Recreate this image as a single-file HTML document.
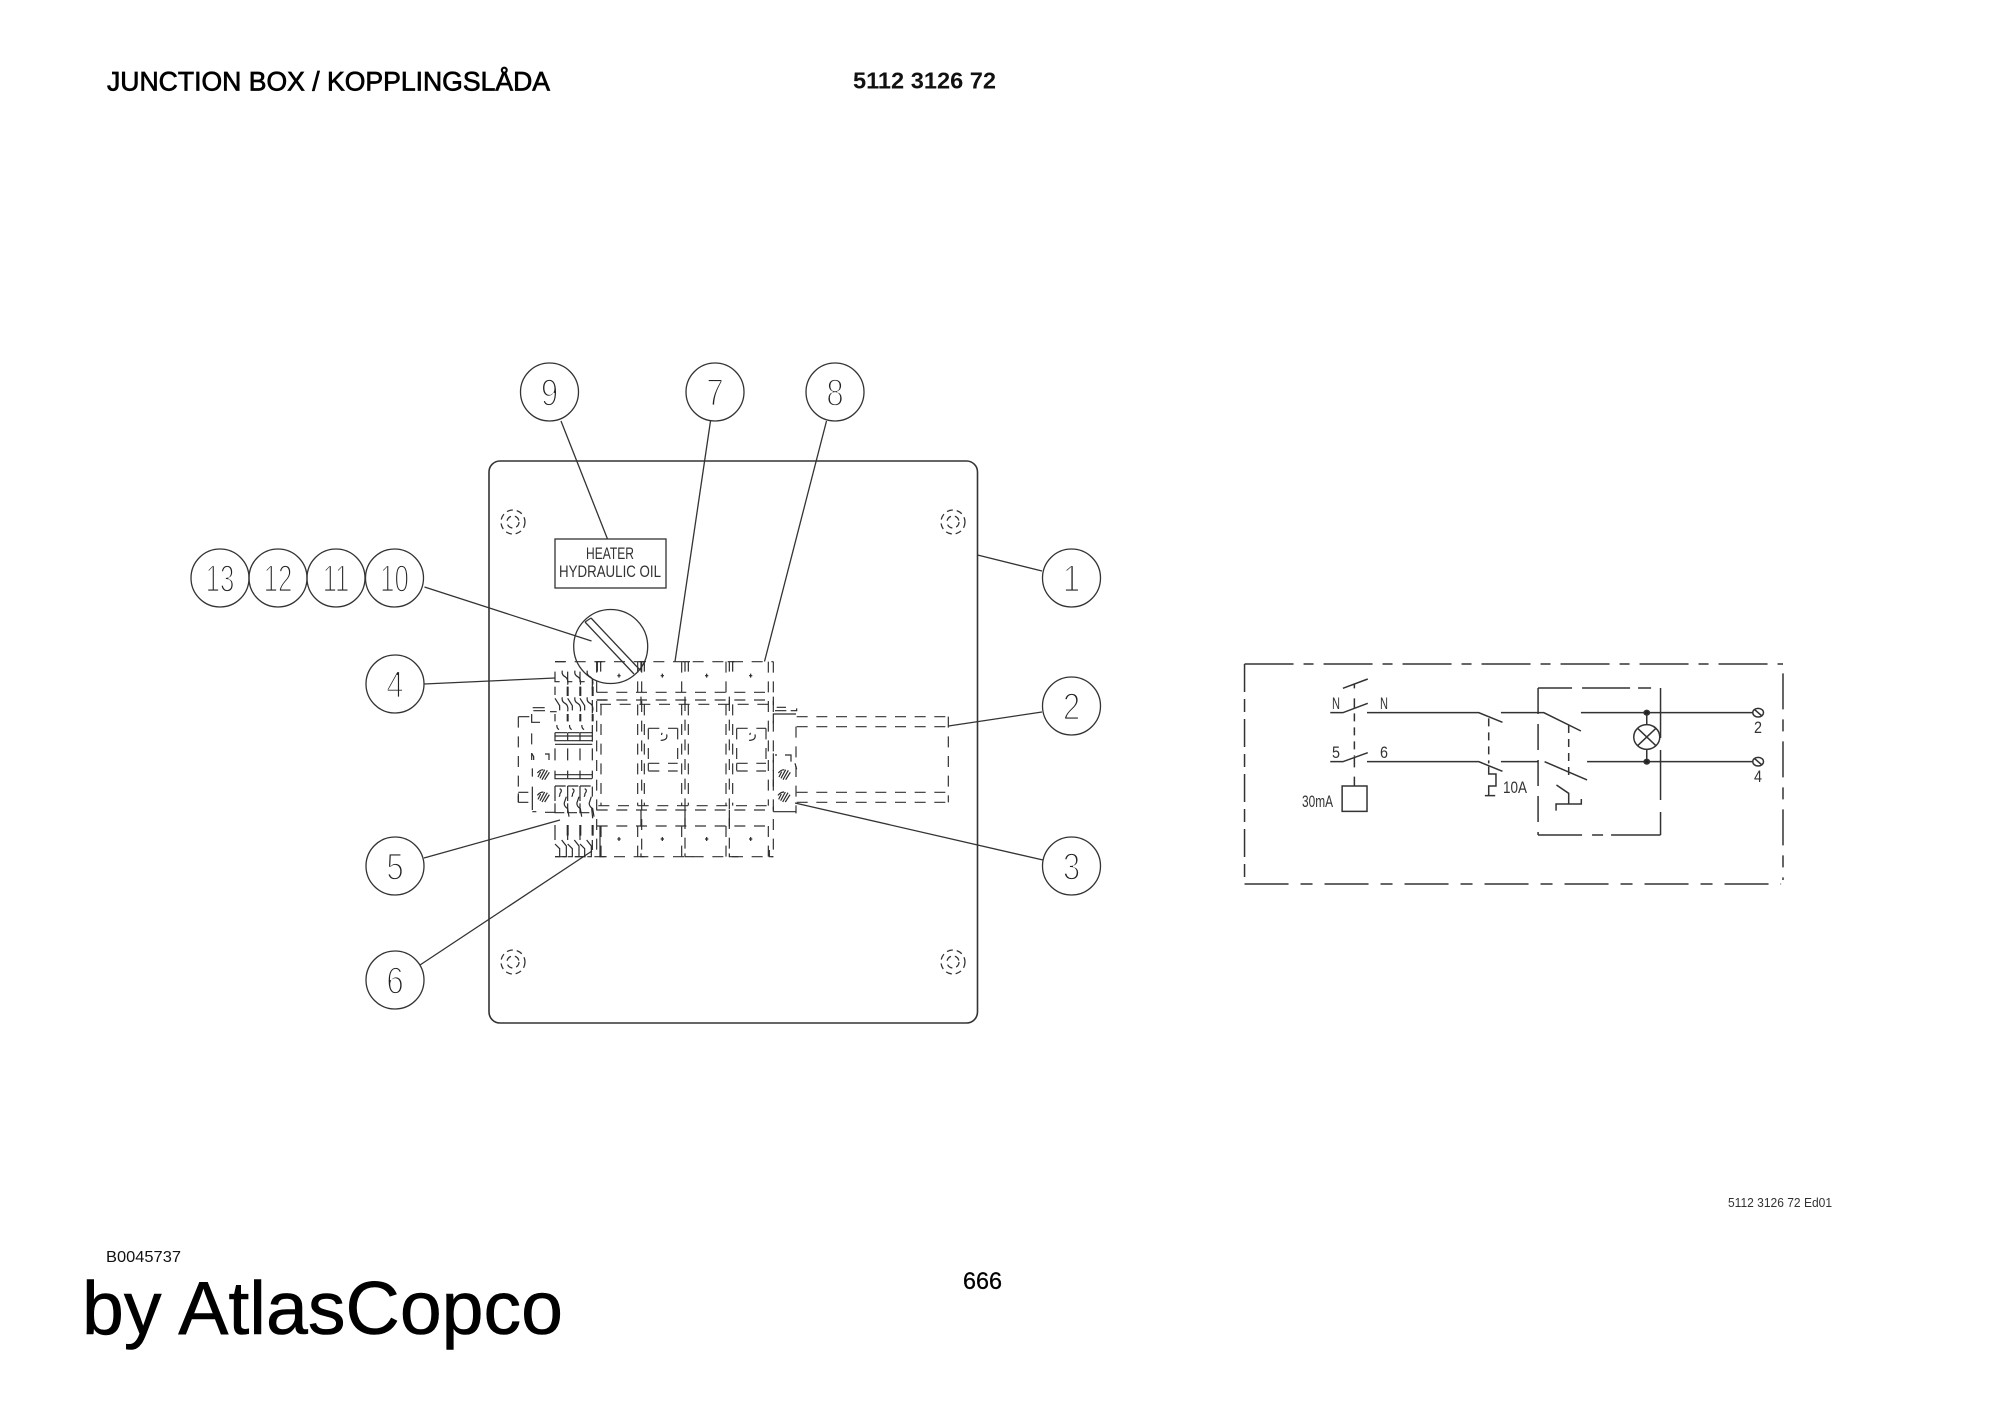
<!DOCTYPE html>
<html lang="en">
<head>
<meta charset="utf-8">
<title>Junction box</title>
<style>
html,body{margin:0;padding:0;background:#fff;width:2000px;height:1414px;overflow:hidden}
svg{display:block;position:absolute;left:0;top:0}
.l{fill:none;stroke:#333;stroke-width:1.3}
.d{font-family:"Liberation Sans",sans-serif;font-size:38px;fill:#222;stroke:#fff;stroke-width:1.7;text-anchor:middle}
.c{font-family:"Liberation Sans",sans-serif;font-size:16.5px;fill:#333}
.t{font-family:"Liberation Sans",sans-serif}
.z{fill:none;stroke:#2a2a2a;stroke-width:3.6}
.zd{fill:none;stroke:#333;stroke-width:3.6;stroke-dasharray:33 26}
.s *{vector-effect:non-scaling-stroke}
.s{fill:none;stroke:#333;stroke-width:1.5}
</style>
</head>
<body>
<svg width="2000" height="1414" viewBox="0 0 2000 1414" xmlns="http://www.w3.org/2000/svg">
<rect width="2000" height="1414" fill="#fff"/>

<!-- page text -->
<text class="t" x="107" y="90.5" font-size="26.5" style="fill:#000;stroke:#000;stroke-width:.7" textLength="443" lengthAdjust="spacingAndGlyphs">JUNCTION BOX / KOPPLINGSLÅDA</text>
<text class="t" x="853" y="88.5" font-size="23" font-weight="700" style="fill:#111" textLength="143" lengthAdjust="spacingAndGlyphs">5112 3126 72</text>
<text class="t" x="106" y="1262" font-size="16" style="fill:#111" textLength="75" lengthAdjust="spacingAndGlyphs">B0045737</text>
<text class="t" x="82" y="1334" font-size="75" style="fill:#000;stroke:#000;stroke-width:.6" textLength="481" lengthAdjust="spacingAndGlyphs">by AtlasCopco</text>
<text class="t" x="963" y="1289" font-size="24" style="fill:#000;stroke:#000;stroke-width:.3" textLength="39" lengthAdjust="spacingAndGlyphs">666</text>
<text class="t" x="1728" y="1207" font-size="13" style="fill:#333" textLength="104" lengthAdjust="spacingAndGlyphs">5112 3126 72 Ed01</text>

<!-- enclosure -->
<rect class="l" x="489" y="461" width="488.500" height="562" rx="11" ry="11" style="stroke-width:1.6"/>

<!-- mounting screws -->
<g class="l" stroke-dasharray="6 4">
<circle cx="513" cy="522" r="12"/><circle cx="513" cy="522" r="6"/>
<circle cx="953" cy="522" r="12"/><circle cx="953" cy="522" r="6"/>
<circle cx="513" cy="962" r="12"/><circle cx="513" cy="962" r="6"/>
<circle cx="953" cy="962" r="12"/><circle cx="953" cy="962" r="6"/>
</g>

<!-- label -->
<rect class="l" x="555" y="539" width="111" height="49"/>
<text class="c" x="586" y="559" textLength="48" lengthAdjust="spacingAndGlyphs">HEATER</text>
<text class="c" x="559" y="577" textLength="102" lengthAdjust="spacingAndGlyphs">HYDRAULIC OIL</text>

<!-- main switch -->
<circle class="l" cx="610.700" cy="646.500" r="37"/>
<path class="l" d="M585 622L634 674M591 618L640 670M585 622L591 618"/>

<!-- leaders -->
<g class="l">
<path d="M561 421L607.500 539"/>
<path d="M710.500 421L675 661.500"/>
<path d="M826.500 421L764.500 661.500"/>
<path d="M424.500 587L591.500 641"/>
<path d="M977.500 555L1042 571"/>
<path d="M948.500 726L1042 712"/>
<path d="M795 803L1043 860"/>
<path d="M424 684L555 678"/>
<path d="M424 858L560 820"/>
<path d="M420 965L592 851"/>
</g>

<!-- balloons -->
<g class="l" fill="#fff">
<circle cx="549.500" cy="392" r="29"/><circle cx="715" cy="392" r="29"/><circle cx="835" cy="392" r="29"/>
<circle cx="220" cy="578" r="29"/><circle cx="278" cy="578" r="29"/><circle cx="336" cy="578" r="29"/><circle cx="394.500" cy="578" r="29"/>
<circle cx="1071.500" cy="578" r="29"/><circle cx="1071.500" cy="706" r="29"/><circle cx="1071.500" cy="866" r="29"/>
<circle cx="395" cy="684" r="29"/><circle cx="395" cy="866" r="29"/><circle cx="395" cy="980" r="29"/>
</g>
<g>
<text class="d" transform="translate(549.5 405.500) scale(.82 1)">9</text>
<text class="d" transform="translate(715 405.500) scale(.82 1)">7</text>
<text class="d" transform="translate(835 405.500) scale(.82 1)">8</text>
<text class="d" transform="translate(220 591.500) scale(.68 1)">13</text>
<text class="d" transform="translate(278 591.500) scale(.68 1)">12</text>
<text class="d" transform="translate(336 591.500) scale(.68 1)">11</text>
<text class="d" transform="translate(394.5 591.500) scale(.68 1)">10</text>
<text class="d" transform="translate(1071.5 591.500) scale(.82 1)">1</text>
<text class="d" transform="translate(1071.5 719.500) scale(.82 1)">2</text>
<text class="d" transform="translate(1071.5 879.500) scale(.82 1)">3</text>
<text class="d" transform="translate(395 697.500) scale(.82 1)">4</text>
<text class="d" transform="translate(395 879.500) scale(.82 1)">5</text>
<text class="d" transform="translate(395 993.500) scale(.82 1)">6</text>
</g>

<!-- terminal block hidden lines -->
<defs>
<g id="col">
<path d="M0 95v30h14M22 92q-3 12 8 18t8 24M0 140v25M0 175l14 22v14M22 172q-3 12 8 18t8 24M0 222v22M6 255q-2 8 6 14M0 278v24h36M0 288h36M0 278h36M0 325v36M0 392v24h36M0 404h36M0 438v45M0 438h32M14 446q10 4 0 16M14 462q2 4-2 8M0 490v28h28M34 470l-6 18q-2 10 10 18l4 24M0 555v45M20 600l14 18v32h-12M0 612l14 14v24h-14"/>
<path d="M38 140v28M38 222v22M38 555v32" stroke-width="6"/>
</g>
<g id="plus"><path d="M0-6v12M-5 0h10" /></g>
<g id="tee"><path d="M-10 0h20M-5 0v30M5 0v30" /></g>
<g id="inner">
<path class="zd" d="M0 0h88M0 0v105M88 0v105M0 105h88M0 128h88M0 105v22"/>
<path class="z" d="M55 18q4 18-18 18M42 14q-3 2-2 6"/>
</g>
<g id="hatch"><path d="M-18-6q8-10 18-10M-10 10L4-16M-4 14L12-14M4 14L18-8M-16 6l8-16"/></g>
</defs>

<g transform="translate(500 640) scale(.33333)">
<g class="zd">
<path d="M165 65H820M290 157H820M290 180H820M300 193H810M295 497H810M290 510H820M290 558H820M165 650H820"/>
<path d="M290 65V650M303 193V497M303 558V650M413 65V157M413 193V497M413 558V650M425 65V650M433 193V497M545 65V157M545 193V497M545 558V650M555 180V650M565 193V497M678 65V157M678 193V497M678 558V650M688 180V650M698 193V497M805 65V497M805 558V650M820 65V650"/>
<path d="M890 230H1345M890 260H1345M890 457H1345M890 487H1345M1345 230V487M888 260V520"/>
<path d="M55 230V487M95 280V360"/>
</g>
<g class="z">
<use href="#tee" x="297" y="65"/><use href="#tee" x="428" y="65"/><use href="#tee" x="560" y="65"/><use href="#tee" x="693" y="65"/>
<path d="M290 180H320M423 170V195M555 170V195M688 170V195M820 170V195M423 510V560M555 510V560M688 510V560M820 500V515"/>
<path d="M300 558V650H320M423 640V650H445M555 640V650H580M688 640V650H715M808 630V650H820"/>
<use href="#plus" x="357" y="107"/><use href="#plus" x="487" y="107"/><use href="#plus" x="620" y="107"/><use href="#plus" x="752" y="107"/>
<use href="#plus" x="357" y="597"/><use href="#plus" x="487" y="597"/><use href="#plus" x="620" y="597"/><use href="#plus" x="752" y="597"/>
<use href="#col" x="165"/><use href="#col" x="203"/><use href="#col" x="240"/>
<path d="M277 120v30M277 180v40M277 255v50M277 325v36M277 392v24M277 440v30M275 505l3 30M277 555v30M277 600v30"/>
<path d="M165 65h30M165 313H277"/>
<path d="M55 230h33M55 457h30M55 487h30M55 460v27M95 222v25h25M100 212h35M98 203h36M150 215h20M95 340l6 10v10M135 342h12v18M97 385v25M97 440v70M97 515h12M135 517h30"/>
<path d="M820 250V222h68M825 212h34M830 202h28M872 212h18V205M820 340v28M825 345h6M855 345h18v20M885 370l5 18M820 390v50M820 515h68"/>
<use href="#hatch" x="130" y="405"/><use href="#hatch" x="130" y="472"/>
<use href="#hatch" x="853" y="405"/><use href="#hatch" x="852" y="472"/>
</g>
<use href="#inner" x="445" y="265"/><use href="#inner" x="710" y="265"/>
</g>

<!-- schematic -->
<g class="s" transform="translate(1230 650) scale(.38270 .33333)">
<path stroke-dasharray="49 10 10 10" d="M38 42H1445"/>
<path stroke-dasharray="44 12 12 12" d="M38 702H1440"/>
<path stroke-dasharray="28 7 13 7" d="M38 42V702"/>
<path stroke-dasharray="36 10 12 10" d="M1445 70V690"/>
<path d="M262 188H295L360 160M358 188H650L712 217M708 188H820L917 243M917 188H1368"/>
<path d="M262 335H295L360 308M358 335H650L712 364M708 335H805M822 335L933 390M933 335H1368"/>
<path d="M295 115L360 87M325 100V115M325 145V175M325 322V352M325 380V408"/>
<path stroke-dasharray="8 6" d="M325 190V320"/>
<rect x="293" y="408" width="65" height="76"/>
<path stroke-dasharray="8 6" d="M676 205V340"/>
<path d="M676 350V372H695V408H676V435M666 437H693"/>
<path stroke-dasharray="34 10 48 8 13 100" d="M805 114H1125"/>
<path stroke-dasharray="44 10 11 8 50" d="M805 555H1125"/>
<path stroke-dasharray="26 10" d="M805 114V555"/>
<path stroke-dasharray="50 12" d="M1125 114V555"/>
<path stroke-dasharray="8 6" d="M885 225V390"/>
<path d="M853 405L885 430V462M852 482V462H918V447"/>
<ellipse cx="1089" cy="261" rx="34" ry="37"/>
<path d="M1065 235L1113 287M1113 235L1065 287M1089 188V224M1089 298V335"/>
<ellipse cx="1089" cy="188" rx="7" ry="7" fill="#222"/>
<ellipse cx="1089" cy="335" rx="7" ry="7" fill="#222"/>
<ellipse cx="1380" cy="188" rx="14" ry="13"/>
<ellipse cx="1380" cy="335" rx="14" ry="13"/>
<path d="M1370 178L1390 198M1370 325L1390 345"/>
</g>
<g>
<text class="c" x="1332" y="709" textLength="8" lengthAdjust="spacingAndGlyphs">N</text>
<text class="c" x="1380" y="709" textLength="8" lengthAdjust="spacingAndGlyphs">N</text>
<text class="c" x="1332" y="758" textLength="8" lengthAdjust="spacingAndGlyphs">5</text>
<text class="c" x="1380" y="758" textLength="8" lengthAdjust="spacingAndGlyphs">6</text>
<text class="c" x="1302" y="807" textLength="31" lengthAdjust="spacingAndGlyphs">30mA</text>
<text class="c" x="1503" y="793" textLength="24" lengthAdjust="spacingAndGlyphs">10A</text>
<text class="c" x="1754" y="733" textLength="8" lengthAdjust="spacingAndGlyphs">2</text>
<text class="c" x="1754" y="782" textLength="8" lengthAdjust="spacingAndGlyphs">4</text>
</g>
</svg>
</body>
</html>
